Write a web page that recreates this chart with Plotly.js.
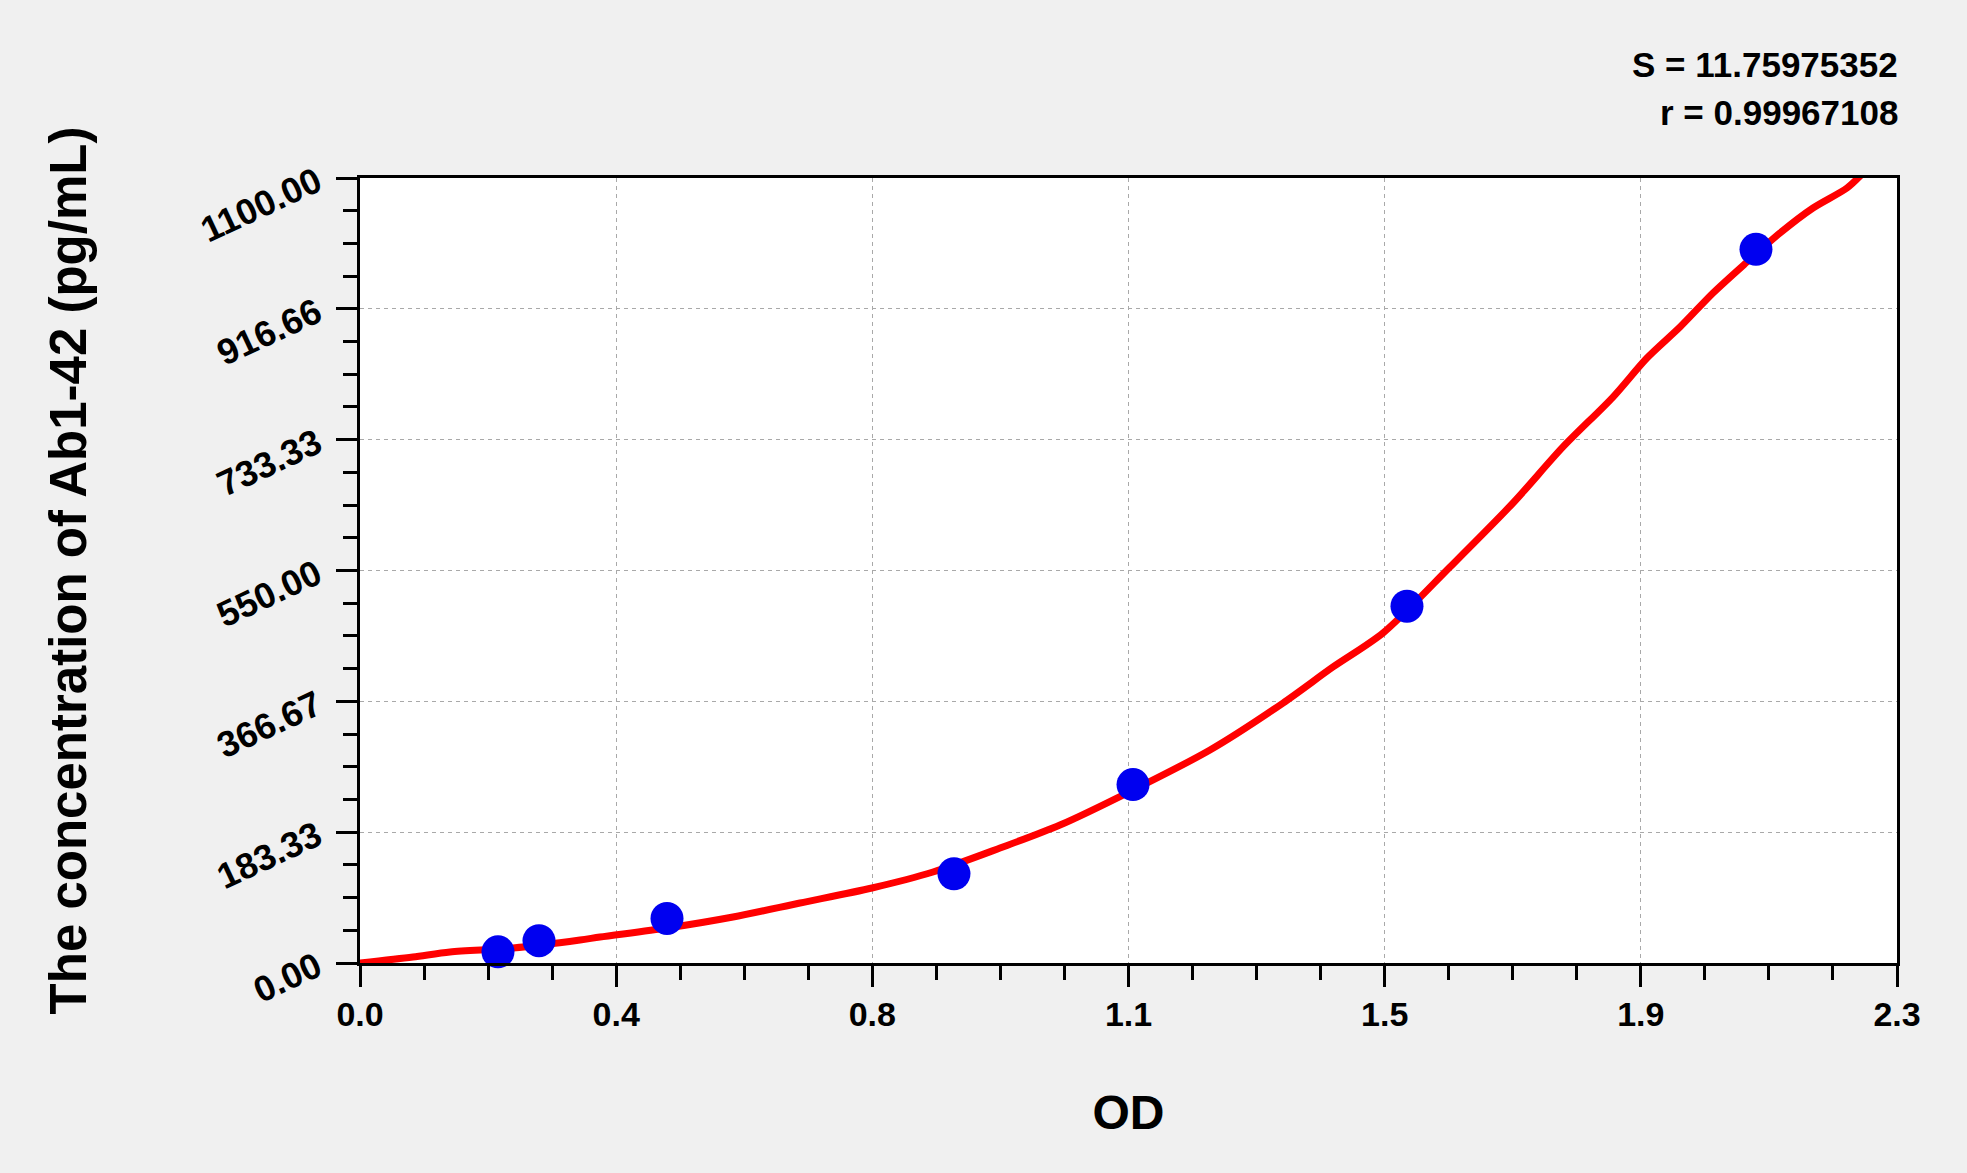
<!DOCTYPE html>
<html>
<head>
<meta charset="utf-8">
<script src="https://cdn.plot.ly/plotly-3.0.1.min.js"></script>
<style>
html,body{margin:0;padding:0;background:#f0f0f0;}
#chart{width:1967px;height:1173px;}
</style>
</head>
<body>
<div id="chart"></div>
<script>
// Standard points (OD, concentration pg/mL)
var stdOD   = [0.2047, 0.2655, 0.4554, 0.8811, 1.1467, 1.5531, 2.0708];
var stdConc = [15.63, 31.25, 62.5, 125, 250, 500, 1000];

// Fitted curve
var curveOD   = [0, 0.0786, 0.1335, 0.2270, 0.3264, 0.3560, 0.4554, 0.5533, 0.6527, 0.7595,
                 0.8500, 0.9494, 1.0384, 1.1467, 1.2609, 1.3692, 1.4434, 1.5175, 1.6169, 1.7104,
                 1.7845, 1.8587, 1.9091, 1.9581, 2.0071, 2.0575, 2.1064, 2.1554, 2.2058, 2.2296];
var curveConc = [0, 8.4, 15.4, 21.0, 32.2, 36.4, 49.0, 64.5, 84.1, 105.1,
                 127.5, 161.1, 193.4, 242.4, 298.5, 364.3, 414.8, 462.4, 554.9, 644.6,
                 723.1, 793.1, 847.8, 891.2, 938.9, 982.3, 1022.9, 1058.0, 1086.0, 1107.0];

// Axis ticks
var xMax = 2.28;
var yMax = 1100;
var xTickLabels = ['0.0', '0.4', '0.8', '1.1', '1.5', '1.9', '2.3'];
var yTickLabels = ['0.00', '183.33', '366.67', '550.00', '733.33', '916.66', '1100.00'];
var statS = 'S = 11.75975352';
var statR = 'r = 0.99967108';
var xTitle = 'OD';
var yTitle = 'The concentration of Ab1-42 (pg/mL)';

var nInt = xTickLabels.length - 1;
var xTickVals = xTickLabels.map(function(_, i){ return i * xMax / nInt; });
var yTickVals = yTickLabels.map(function(_, i){ return i * yMax / nInt; });
function minors(maxV){
  var out = [];
  for (var i = 0; i < nInt; i++) {
    for (var k = 1; k < 4; k++) out.push((i + k / 4) * maxV / nInt);
  }
  return out;
}

var sans = 'Liberation Sans, Arial, sans-serif';

var traces = [
  {
    x: curveOD, y: curveConc, type: 'scatter', mode: 'lines',
    line: {color: '#ff0000', width: 7, shape: 'spline', smoothing: 0.8}, hoverinfo: 'skip'
  },
  {
    x: stdOD, y: stdConc, type: 'scatter', mode: 'markers',
    marker: {color: '#0000f0', size: 33}, cliponaxis: false
  }
];

var axisCommon = {
  showline: true, linewidth: 3, linecolor: '#000', mirror: true,
  ticks: 'outside', ticklen: 21, tickwidth: 3, tickcolor: '#000',
  showgrid: true, gridcolor: '#a9a9a9', gridwidth: 1, griddash: '4px,4px',
  zeroline: false, tickmode: 'array', automargin: false
};

var layout = {
  width: 1967, height: 1173,
  paper_bgcolor: '#f0f0f0', plot_bgcolor: '#ffffff',
  margin: {l: 360, r: 70, t: 178, b: 210},
  showlegend: false,
  xaxis: Object.assign({}, axisCommon, {
    range: [0, xMax],
    tickvals: xTickVals, ticktext: xTickLabels,
    tickfont: {family: sans, size: 34, color: '#000', weight: 'bold'},
    ticklabelstandoff: -2,
    minor: {tickmode: 'array', tickvals: minors(xMax), ticks: 'outside', ticklen: 14, tickwidth: 3, tickcolor: '#000', showgrid: false},
    title: {text: '<b>' + xTitle + '</b>', font: {family: sans, size: 48, color: '#000'}, standoff: 64}
  }),
  yaxis: Object.assign({}, axisCommon, {
    range: [0, yMax],
    tickvals: yTickVals, ticktext: yTickLabels,
    tickangle: -25,
    tickfont: {family: sans, size: 36, color: '#000', weight: 'bold'},
    ticklabelstandoff: 12,
    minor: {tickmode: 'array', tickvals: minors(yMax), ticks: 'outside', ticklen: 14, tickwidth: 3, tickcolor: '#000', showgrid: false},
    title: {text: '<b>' + yTitle + '</b>', font: {family: sans, size: 51, color: '#000'}, standoff: 92}
  }),
  annotations: [
    {xref: 'paper', yref: 'paper', x: 1.002, y: (963 - 64) / 785, xanchor: 'right', yanchor: 'middle',
     text: '<b>' + statS + '</b>', showarrow: false, font: {family: sans, size: 35, color: '#000'}},
    {xref: 'paper', yref: 'paper', x: 1.002, y: (963 - 112) / 785, xanchor: 'right', yanchor: 'middle',
     text: '<b>' + statR + '</b>', showarrow: false, font: {family: sans, size: 35, color: '#000'}}
  ]
};

Plotly.newPlot('chart', traces, layout, {displayModeBar: false, staticPlot: true});
</script>
</body>
</html>
